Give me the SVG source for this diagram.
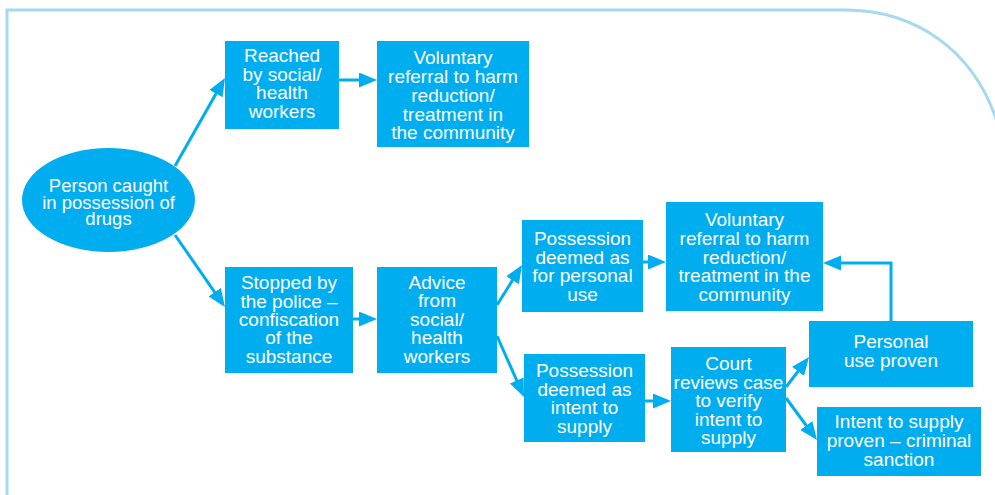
<svg xmlns="http://www.w3.org/2000/svg" width="995" height="495" viewBox="0 0 995 495">
  <style>
    .box { fill: #00aeef; }
    .lbl { fill: #ffffff; font-family: "Liberation Sans", Arial, sans-serif; font-size: 19px; text-anchor: middle; }
    .lbl-e { font-size: 18.5px; }
    .edge { fill: none; stroke: #00aeef; stroke-width: 3; marker-end: url(#head); }
    .frame { fill: none; stroke: #a6d8f2; stroke-width: 3; }
  </style>
  <defs>
    <marker id="head" markerUnits="userSpaceOnUse" markerWidth="20" markerHeight="16" refX="13" refY="7.5" orient="auto">
      <path d="M0,0 L18,7.5 L0,15 z" fill="#00aeef"/>
    </marker>
  </defs>

  <rect width="995" height="495" fill="#ffffff"/>

  <!-- page frame with rounded top-right corner -->
  <path class="frame" d="M7,495 V10 H845 C915,10 975,50 998,125"/>

  <!-- connectors -->
  <g id="connectors">
    <path class="edge" d="M175,166 L222.5,82.3"/>
    <path class="edge" d="M339,80 H372"/>
    <path class="edge" d="M175,235 L222.1,302.9"/>
    <path class="edge" d="M353,319 H372"/>
    <path class="edge" d="M497,305 L519.4,269.2"/>
    <path class="edge" d="M497,336 L522,392.4"/>
    <path class="edge" d="M643,262 H661"/>
    <path class="edge" d="M645,401 H666"/>
    <path class="edge" d="M786,387 L806,361"/>
    <path class="edge" d="M786,398 L814,436"/>
    <path class="edge" d="M891,321 V263 H828"/>
  </g>

  <g id="caught">
    <ellipse class="box" cx="108.5" cy="200" rx="86.5" ry="52"/>
    <text class="lbl lbl-e" x="108.5" y="192">Person caught</text>
    <text class="lbl lbl-e" x="108.5" y="209">in possession of</text>
    <text class="lbl lbl-e" x="108.5" y="225">drugs</text>
  </g>

  <g id="reached">
    <rect class="box" x="225" y="41" width="114" height="88"/>
    <text class="lbl" x="282" y="62">Reached</text>
    <text class="lbl" x="282" y="81">by social/</text>
    <text class="lbl" x="282" y="99">health</text>
    <text class="lbl" x="282" y="118">workers</text>
  </g>

  <g id="referral-top">
    <rect class="box" x="377" y="41" width="152" height="106"/>
    <text class="lbl" x="453" y="64">Voluntary</text>
    <text class="lbl" x="453" y="83">referral to harm</text>
    <text class="lbl" x="453" y="102">reduction/</text>
    <text class="lbl" x="453" y="121">treatment in</text>
    <text class="lbl" x="453" y="139">the community</text>
  </g>

  <g id="stopped">
    <rect class="box" x="225" y="267" width="128" height="106"/>
    <text class="lbl" x="289" y="289">Stopped by</text>
    <text class="lbl" x="289" y="308">the police –</text>
    <text class="lbl" x="289" y="326">confiscation</text>
    <text class="lbl" x="289" y="344">of the</text>
    <text class="lbl" x="289" y="363">substance</text>
  </g>

  <g id="advice">
    <rect class="box" x="377" y="267" width="120" height="106"/>
    <text class="lbl" x="437" y="289">Advice</text>
    <text class="lbl" x="437" y="307">from</text>
    <text class="lbl" x="437" y="326">social/</text>
    <text class="lbl" x="437" y="344">health</text>
    <text class="lbl" x="437" y="363">workers</text>
  </g>

  <g id="personal-use">
    <rect class="box" x="522" y="220" width="121" height="92"/>
    <text class="lbl" x="582.5" y="245">Possession</text>
    <text class="lbl" x="582.5" y="264">deemed as</text>
    <text class="lbl" x="582.5" y="282">for personal</text>
    <text class="lbl" x="582.5" y="301">use</text>
  </g>

  <g id="intent-supply">
    <rect class="box" x="524" y="354" width="121" height="88"/>
    <text class="lbl" x="584.5" y="377">Possession</text>
    <text class="lbl" x="584.5" y="396">deemed as</text>
    <text class="lbl" x="584.5" y="414">intent to</text>
    <text class="lbl" x="584.5" y="433">supply</text>
  </g>

  <g id="referral-bottom">
    <rect class="box" x="666" y="202" width="157" height="109"/>
    <text class="lbl" x="744.5" y="226">Voluntary</text>
    <text class="lbl" x="744.5" y="245">referral to harm</text>
    <text class="lbl" x="744.5" y="264">reduction/</text>
    <text class="lbl" x="744.5" y="282">treatment in the</text>
    <text class="lbl" x="744.5" y="301">community</text>
  </g>

  <g id="court">
    <rect class="box" x="671" y="347" width="115" height="105"/>
    <text class="lbl" x="728.5" y="370">Court</text>
    <text class="lbl" x="728.5" y="389">reviews case</text>
    <text class="lbl" x="728.5" y="407">to verify</text>
    <text class="lbl" x="728.5" y="426">intent to</text>
    <text class="lbl" x="728.5" y="444">supply</text>
  </g>

  <g id="personal-proven">
    <rect class="box" x="809" y="321" width="164" height="66"/>
    <text class="lbl" x="891" y="348">Personal</text>
    <text class="lbl" x="891" y="367">use proven</text>
  </g>

  <g id="supply-proven">
    <rect class="box" x="817" y="407" width="164" height="69"/>
    <text class="lbl" x="899" y="428">Intent to supply</text>
    <text class="lbl" x="899" y="447">proven – criminal</text>
    <text class="lbl" x="899" y="466">sanction</text>
  </g>
</svg>
